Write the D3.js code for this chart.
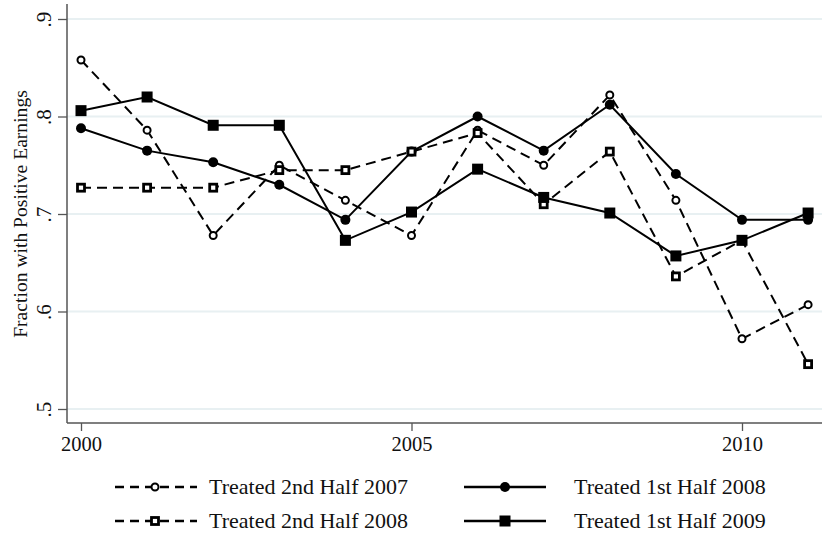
<!DOCTYPE html>
<html>
<head>
<meta charset="utf-8">
<script src="https://cdn.jsdelivr.net/npm/d3@7"></script>
<style>
  body { margin: 0; background: #fff; }
  svg { display: block; }
  text { font-family: "Liberation Serif", "Times New Roman", serif; fill: #111; }
</style>
</head>
<body>
<svg id="chart" width="822" height="539"></svg>
<script>
const years = [2000, 2001, 2002, 2003, 2004, 2005, 2006, 2007, 2008, 2009, 2010, 2011];
const treated2H2007 = [0.858, 0.786, 0.678, 0.750, 0.714, 0.678, 0.786, 0.750, 0.822, 0.714, 0.572, 0.607];
const treated1H2008 = [0.788, 0.765, 0.753, 0.730, 0.694, 0.764, 0.800, 0.765, 0.812, 0.741, 0.694, 0.694];
const treated2H2008 = [0.727, 0.727, 0.727, 0.745, 0.745, 0.764, 0.783, 0.710, 0.764, 0.636, 0.673, 0.546];
const treated1H2009 = [0.806, 0.820, 0.791, 0.791, 0.673, 0.702, 0.746, 0.717, 0.701, 0.657, 0.673, 0.701];
const yTicks = [0.5, 0.6, 0.7, 0.8, 0.9];
const xTicks = [2000, 2005, 2010];

const seriesList = [
  { name: "Treated 2nd Half 2007", values: treated2H2007, dashed: true, marker: "hollowCircle" },
  { name: "Treated 1st Half 2008", values: treated1H2008, dashed: false, marker: "filledCircle" },
  { name: "Treated 2nd Half 2008", values: treated2H2008, dashed: true, marker: "hollowSquare" },
  { name: "Treated 1st Half 2009", values: treated1H2009, dashed: false, marker: "filledSquare" }
];

const svg = d3.select("#chart");
const plot = { left: 67, right: 822, top: 4, bottom: 423 };

const x = d3.scaleLinear().domain([2000, 2010]).range([81, 742]);
const y = d3.scaleLinear().domain([0.5, 0.9]).range([409, 19]);

// gridlines
svg.append("g").selectAll("line").data(yTicks).join("line")
  .attr("x1", plot.left).attr("x2", plot.right)
  .attr("y1", d => y(d)).attr("y2", d => y(d))
  .attr("stroke", "#e8f0f2").attr("stroke-width", 2);

// y axis
const yAxis = svg.append("g").attr("transform", `translate(${plot.left},0)`)
  .call(d3.axisLeft(y).tickValues(yTicks).tickSize(9).tickFormat(d => d3.format(".1f")(d).replace(/^0/, "")));
yAxis.select(".domain").remove();
yAxis.append("line").attr("x1", 0).attr("x2", 0).attr("y1", plot.top).attr("y2", plot.bottom)
  .attr("stroke", "#555").attr("stroke-width", 1.5);
yAxis.selectAll(".tick line").attr("stroke", "#555").attr("stroke-width", 1.3);
yAxis.selectAll(".tick text")
  .attr("font-size", 21).attr("font-family", "Liberation Serif")
  .attr("fill", "#111")
  .attr("x", null).attr("dy", null)
  .attr("text-anchor", "middle")
  .attr("transform", "translate(-16,0) rotate(-90)")
  .attr("y", 0);

// x axis
const xAxis = svg.append("g").attr("transform", `translate(0,${plot.bottom})`)
  .call(d3.axisBottom(x).tickValues(xTicks).tickSize(8).tickFormat(d3.format("d")));
xAxis.select(".domain").remove();
xAxis.append("line").attr("x1", plot.left).attr("x2", plot.right).attr("y1", 0).attr("y2", 0)
  .attr("stroke", "#555").attr("stroke-width", 1.5);
xAxis.selectAll(".tick line").attr("stroke", "#555").attr("stroke-width", 1.3);
xAxis.selectAll(".tick text")
  .attr("font-size", 20.5).attr("font-family", "Liberation Serif").attr("fill", "#111")
  .attr("y", 13);

// y title
svg.append("text")
  .attr("transform", `translate(27,${(19 + 409) / 2}) rotate(-90)`)
  .attr("text-anchor", "middle")
  .attr("font-size", 19.6)
  .text("Fraction with Positive Earnings");

const line = d3.line().x((d, i) => x(years[i])).y(d => y(d));

function drawMarker(g, type, cx, cy) {
  if (type === "hollowCircle") {
    g.append("circle").attr("cx", cx).attr("cy", cy).attr("r", 3.5)
      .attr("fill", "#fff").attr("stroke", "#000").attr("stroke-width", 2);
  } else if (type === "filledCircle") {
    g.append("circle").attr("cx", cx).attr("cy", cy).attr("r", 5)
      .attr("fill", "#000");
  } else if (type === "hollowSquare") {
    g.append("rect").attr("x", cx - 3.5).attr("y", cy - 3.5).attr("width", 7).attr("height", 7)
      .attr("fill", "#fff").attr("stroke", "#000").attr("stroke-width", 2.8);
  } else if (type === "filledSquare") {
    g.append("rect").attr("x", cx - 5.5).attr("y", cy - 5.5).attr("width", 11).attr("height", 11)
      .attr("fill", "#000");
  }
}

const seriesG = svg.append("g");
seriesList.forEach(s => {
  seriesG.append("path").datum(s.values)
    .attr("d", line)
    .attr("fill", "none").attr("stroke", "#000").attr("stroke-width", 2)
    .attr("stroke-dasharray", s.dashed ? "10,6" : null);
});
seriesList.forEach(s => {
  const g = seriesG.append("g");
  s.values.forEach((v, i) => drawMarker(g, s.marker, x(years[i]), y(v)));
});

// legend
const legendItems = [
  { s: seriesList[0], lx1: 115, lx2: 197, mx: 155, tx: 209, ty: 487 },
  { s: seriesList[1], lx1: 464, lx2: 546, mx: 505, tx: 574, ty: 487 },
  { s: seriesList[2], lx1: 115, lx2: 197, mx: 155, tx: 209, ty: 521 },
  { s: seriesList[3], lx1: 464, lx2: 546, mx: 505, tx: 574, ty: 521 }
];
const lg = svg.append("g");
legendItems.forEach(it => {
  lg.append("line").attr("x1", it.lx1).attr("x2", it.lx2).attr("y1", it.ty).attr("y2", it.ty)
    .attr("stroke", "#000").attr("stroke-width", 2.5)
    .attr("stroke-dasharray", it.s.dashed ? "9,6" : null);
  drawMarker(lg, it.s.marker, it.mx, it.ty);
  lg.append("text").attr("x", it.tx).attr("y", it.ty).attr("dy", "0.33em")
    .attr("font-size", 22).text(it.s.name);
});
</script>
</body>
</html>
